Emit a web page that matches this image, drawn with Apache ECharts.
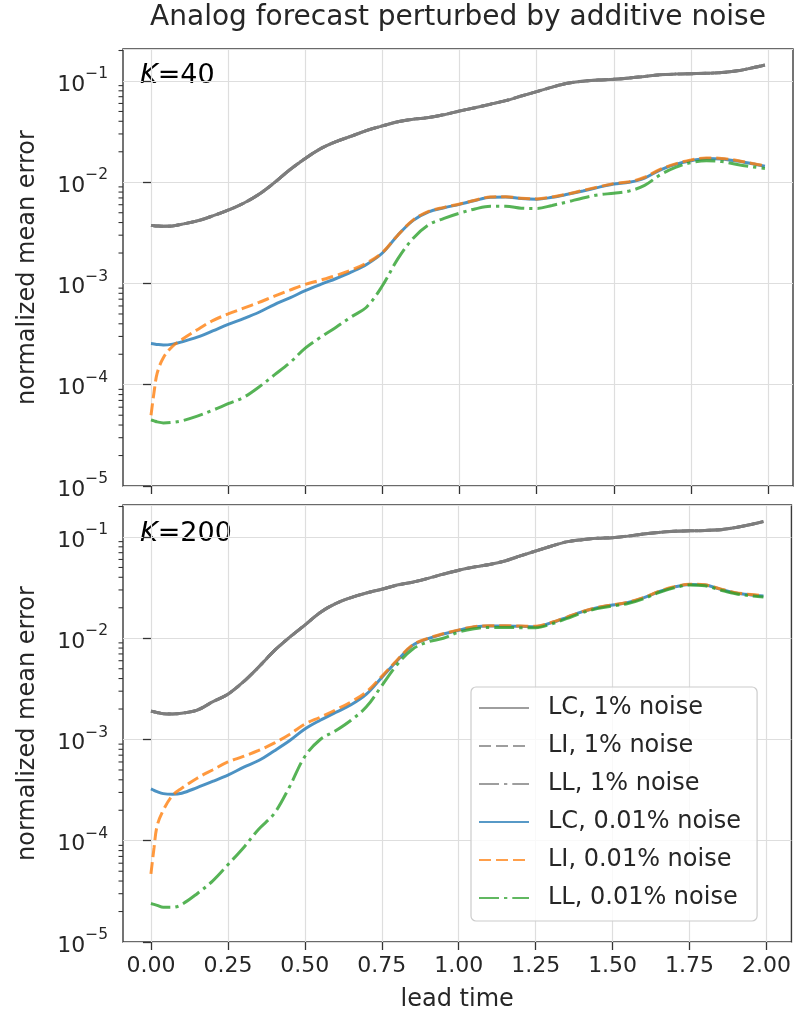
<!DOCTYPE html>
<html><head><meta charset="utf-8">
<script src="https://cdn.jsdelivr.net/npm/echarts@6/dist/echarts.min.js"></script>
<style>html,body{margin:0;padding:0;background:#fff}#c{width:794px;height:1019px}</style>
</head><body><div id="c"></div>
<script>
// ---------------- data ----------------
const leadTime = [0, 0.01, 0.02, 0.04, 0.07, 0.1, 0.15, 0.2, 0.25, 0.3, 0.35, 0.4, 0.45, 0.5, 0.55, 0.6, 0.65, 0.7, 0.75, 0.8, 0.85, 0.9, 0.95, 1.0, 1.05, 1.1, 1.15, 1.2, 1.25, 1.3, 1.35, 1.4, 1.45, 1.5, 1.55, 1.6, 1.65, 1.7, 1.75, 1.8, 1.85, 1.9, 1.95, 1.99];

// K = 40
const k40Noise1 = [3.75e-3, 3.72e-3, 3.7e-3, 3.68e-3, 3.7e-3, 3.85e-3, 4.15e-3, 4.65e-3, 5.3e-3, 6.2e-3, 7.6e-3, 9.9e-3, 0.0133, 0.0172, 0.0215, 0.0252, 0.0286, 0.0325, 0.036, 0.0395, 0.042, 0.0435, 0.0465, 0.0505, 0.0545, 0.059, 0.064, 0.071, 0.0785, 0.087, 0.095, 0.0995, 0.102, 0.104, 0.107, 0.111, 0.115, 0.117, 0.118, 0.119, 0.121, 0.126, 0.135, 0.144];
const k40LC = [2.55e-4, 2.53e-4, 2.5e-4, 2.47e-4, 2.52e-4, 2.65e-4, 2.95e-4, 3.4e-4, 3.95e-4, 4.5e-4, 5.2e-4, 6.2e-4, 7.2e-4, 8.5e-4, 9.8e-4, 1.12e-3, 1.3e-3, 1.55e-3, 2.0e-3, 3.0e-3, 4.2e-3, 5.1e-3, 5.6e-3, 6.05e-3, 6.6e-3, 7.1e-3, 7.15e-3, 6.9e-3, 6.8e-3, 7.1e-3, 7.6e-3, 8.2e-3, 8.9e-3, 9.6e-3, 1.0e-2, 1.1e-2, 1.32e-2, 1.5e-2, 1.63e-2, 1.72e-2, 1.7e-2, 1.62e-2, 1.52e-2, 1.44e-2];
const k40LI = [5.0e-5, 8.5e-5, 1.3e-4, 1.85e-4, 2.4e-4, 2.8e-4, 3.5e-4, 4.3e-4, 5.0e-4, 5.7e-4, 6.5e-4, 7.5e-4, 8.6e-4, 9.8e-4, 1.08e-3, 1.2e-3, 1.36e-3, 1.6e-3, 2.02e-3, 3.0e-3, 4.25e-3, 5.15e-3, 5.65e-3, 6.1e-3, 6.65e-3, 7.15e-3, 7.2e-3, 6.95e-3, 6.85e-3, 7.15e-3, 7.65e-3, 8.3e-3, 9.0e-3, 9.7e-3, 1.01e-2, 1.12e-2, 1.34e-2, 1.52e-2, 1.66e-2, 1.74e-2, 1.72e-2, 1.64e-2, 1.53e-2, 1.45e-2];
const k40LL = [4.5e-5, 4.4e-5, 4.3e-5, 4.2e-5, 4.25e-5, 4.4e-5, 4.9e-5, 5.6e-5, 6.5e-5, 7.5e-5, 9.5e-5, 1.25e-4, 1.65e-4, 2.3e-4, 2.95e-4, 3.7e-4, 4.7e-4, 5.9e-4, 9.5e-4, 1.75e-3, 2.8e-3, 3.8e-3, 4.4e-3, 4.95e-3, 5.45e-3, 5.8e-3, 5.8e-3, 5.55e-3, 5.5e-3, 5.9e-3, 6.4e-3, 7.0e-3, 7.5e-3, 7.8e-3, 8.2e-3, 9.3e-3, 1.18e-2, 1.4e-2, 1.56e-2, 1.63e-2, 1.6e-2, 1.5e-2, 1.42e-2, 1.37e-2];

// K = 200
const k200Noise1 = [1.9e-3, 1.88e-3, 1.85e-3, 1.8e-3, 1.79e-3, 1.82e-3, 1.95e-3, 2.35e-3, 2.8e-3, 3.7e-3, 5.2e-3, 7.5e-3, 1.02e-2, 1.35e-2, 1.8e-2, 2.2e-2, 2.52e-2, 2.8e-2, 3.05e-2, 3.35e-2, 3.58e-2, 3.9e-2, 4.3e-2, 4.7e-2, 5.05e-2, 5.35e-2, 5.8e-2, 6.5e-2, 7.27e-2, 8.1e-2, 8.95e-2, 9.4e-2, 9.7e-2, 9.85e-2, 0.102, 0.107, 0.111, 0.114, 0.115, 0.116, 0.118, 0.124, 0.133, 0.142];
const k200LC = [3.25e-4, 3.15e-4, 3.05e-4, 2.92e-4, 2.88e-4, 2.95e-4, 3.35e-4, 3.85e-4, 4.45e-4, 5.3e-4, 6.2e-4, 7.7e-4, 9.7e-4, 1.27e-3, 1.55e-3, 1.85e-3, 2.2e-3, 2.8e-3, 4.1e-3, 6.0e-3, 8.5e-3, 9.9e-3, 1.1e-2, 1.2e-2, 1.29e-2, 1.32e-2, 1.32e-2, 1.31e-2, 1.3e-2, 1.42e-2, 1.6e-2, 1.82e-2, 2.0e-2, 2.13e-2, 2.25e-2, 2.5e-2, 2.88e-2, 3.2e-2, 3.4e-2, 3.35e-2, 3.05e-2, 2.8e-2, 2.68e-2, 2.62e-2];
const k200LI = [4.7e-5, 8.5e-5, 1.4e-4, 2.0e-4, 2.8e-4, 3.3e-4, 4.15e-4, 5.0e-4, 6.0e-4, 6.8e-4, 7.8e-4, 9.2e-4, 1.12e-3, 1.42e-3, 1.66e-3, 1.96e-3, 2.35e-3, 2.95e-3, 4.2e-3, 6.1e-3, 8.6e-3, 1.0e-2, 1.11e-2, 1.21e-2, 1.3e-2, 1.33e-2, 1.33e-2, 1.32e-2, 1.31e-2, 1.43e-2, 1.61e-2, 1.83e-2, 2.01e-2, 2.14e-2, 2.27e-2, 2.52e-2, 2.9e-2, 3.22e-2, 3.42e-2, 3.37e-2, 3.07e-2, 2.82e-2, 2.7e-2, 2.64e-2];
const k200LL = [2.4e-5, 2.35e-5, 2.3e-5, 2.2e-5, 2.2e-5, 2.35e-5, 3.0e-5, 4.0e-5, 5.8e-5, 8.5e-5, 1.3e-4, 1.85e-4, 3.4e-4, 6.8e-4, 1.0e-3, 1.22e-3, 1.55e-3, 2.1e-3, 3.4e-3, 5.5e-3, 7.8e-3, 9.2e-3, 1.0e-2, 1.15e-2, 1.24e-2, 1.28e-2, 1.28e-2, 1.27e-2, 1.27e-2, 1.38e-2, 1.56e-2, 1.78e-2, 1.96e-2, 2.08e-2, 2.2e-2, 2.45e-2, 2.83e-2, 3.15e-2, 3.36e-2, 3.3e-2, 3.0e-2, 2.75e-2, 2.62e-2, 2.55e-2];

// axis ticks and labels
const xTickValues = [0, 0.25, 0.5, 0.75, 1.0, 1.25, 1.5, 1.75, 2.0];
const minorMultipliers = [2, 3, 4, 5, 6, 7, 8, 9];
const decades = [1e-5, 1e-4, 1e-3, 1e-2, 1e-1];
const seriesNames = ['LC, 1% noise', 'LI, 1% noise', 'LL, 1% noise', 'LC, 0.01% noise', 'LI, 0.01% noise', 'LL, 0.01% noise'];
const panelLabels = ['40', '200'];

// ---------------- chart ----------------
const FONT = 'DejaVu Sans';
const X_MIN = -0.0908, X_MAX = 2.081;
const Y_MIN = 1e-5, Y_MAX = 0.207;
const TXT = '#262626';

const chart = echarts.init(document.getElementById('c'));

const minorVals = [];
decades.forEach(d => minorMultipliers.forEach(m => { const v = m * d; if (v < Y_MAX) minorVals.push(v); }));

const pair = arr => leadTime.map((t, i) => [t, arr[i]]);

const DASH = [12, 5];
const DASHDOT = [20, 5, 3.3, 5];
const styles = [
  { color: '#7d7d7d', opacity: 1, type: 'solid' },
  { color: '#7d7d7d', opacity: 1, type: DASH },
  { color: '#7d7d7d', opacity: 1, type: DASHDOT },
  { color: '#1f77b4', opacity: 0.8, type: 'solid' },
  { color: '#ff7f0e', opacity: 0.8, type: DASH },
  { color: '#2ca02c', opacity: 0.8, type: DASHDOT }
];

const panels = [
  [k40Noise1, k40Noise1, k40Noise1, k40LC, k40LI, k40LL],
  [k200Noise1, k200Noise1, k200Noise1, k200LC, k200LI, k200LL]
];

const series = [];
panels.forEach((arrs, p) => {
  arrs.forEach((arr, i) => {
    const s = styles[i];
    series.push({
      name: seriesNames[i], type: 'line', xAxisIndex: p, yAxisIndex: p,
      data: pair(arr), symbol: 'none', showSymbol: false,
      smooth: 0.35, silent: true,
      emphasis: { disabled: true },
      itemStyle: { color: s.color, opacity: s.opacity },
      lineStyle: { color: s.color, width: 3, type: s.type, opacity: s.opacity }
    });
  });
  series.push({
    type: 'custom', xAxisIndex: p, yAxisIndex: p, silent: true, clip: false,
    data: minorVals.map(v => [X_MIN, v]),
    renderItem: (params, api) => {
      const pt = api.coord([api.value(0), api.value(1)]);
      return { type: 'line', shape: { x1: pt[0] - 4.5, y1: pt[1], x2: pt[0], y2: pt[1] },
               style: { stroke: '#333', lineWidth: 1.1 } };
    }
  });
});

const grids = [
  { left: 123, width: 670, top: 49, height: 437 },
  { left: 123, width: 670, top: 505, height: 437 }
].map(g => Object.assign(g, { show: true, borderColor: '#3a3a3a', borderWidth: 1.4, backgroundColor: 'transparent', containLabel: false }));

const xAxes = [0, 1].map(p => ({
  type: 'value', gridIndex: p, min: X_MIN, max: X_MAX,
  axisLine: { show: false },
  axisTick: { show: true, inside: false, length: 8, customValues: xTickValues, lineStyle: { color: '#333', width: 1.3 } },
  axisLabel: { show: p === 1, customValues: xTickValues, margin: 13, fontSize: 22, fontFamily: FONT, color: TXT,
               formatter: v => v.toFixed(2) },
  splitLine: { show: true, lineStyle: { color: '#dedede', width: 1.2 } },
  name: p === 1 ? 'lead time' : '', nameLocation: 'middle', nameGap: 46,
  nameTextStyle: { fontSize: 24, fontFamily: FONT, color: TXT }
}));

const yAxes = [0, 1].map(p => ({
  type: 'log', logBase: 10, gridIndex: p, min: Y_MIN, max: Y_MAX, interval: 1,
  axisLine: { show: false },
  axisTick: { show: true, inside: false, length: 8, lineStyle: { color: '#333', width: 1.3 } },
  axisLabel: {
    margin: 15, showMaxLabel: false, showMinLabel: true,
    formatter: v => '{b|10}{s|\u2212' + Math.round(-Math.log10(v)) + '}',
    rich: {
      b: { fontSize: 22, fontFamily: FONT, color: TXT, lineHeight: 30, verticalAlign: 'bottom', padding: [6, 0, 0, 0] },
      s: { fontSize: 15.5, fontFamily: FONT, color: TXT, lineHeight: 17, verticalAlign: 'top' }
    }
  },
  splitLine: { show: true, lineStyle: { color: '#dedede', width: 1.2 } },
  minorTick: { show: false },
  name: 'normalized mean error', nameLocation: 'middle', nameGap: 83, nameRotate: 90,
  nameTextStyle: { fontSize: 24, fontFamily: FONT, color: TXT }
}));

const graphic = [
  { type: 'text', style: { text: 'Analog forecast perturbed by additive noise', x: 458, y: 18, textAlign: 'center', textVerticalAlign: 'middle', font: '28px "DejaVu Sans"', fill: TXT } }
];
[76, 534].forEach((yy, p) => {
  graphic.push({ type: 'text', style: {
    x: 140, y: yy, textVerticalAlign: 'middle',
    text: '{i|K}{n|=' + panelLabels[p] + '}',
    rich: { i: { fontSize: 27, fontFamily: FONT, fontStyle: 'italic', color: TXT },
            n: { fontSize: 27, fontFamily: FONT, color: TXT } }
  }});
});

chart.setOption({
  animation: false,
  backgroundColor: '#ffffff',
  grid: grids, xAxis: xAxes, yAxis: yAxes,
  legend: {
    data: seriesNames, orient: 'vertical', left: 471, top: 687,
    itemWidth: 50, itemHeight: 14, itemGap: 14,
    padding: [9, 16, 11, 7], selectedMode: false,
    backgroundColor: 'rgba(255,255,255,0.8)', borderColor: '#cccccc', borderWidth: 1.2, borderRadius: 5,
    itemStyle: { opacity: 0 },
    lineStyle: { opacity: 0.75 },
    textStyle: { fontSize: 24, fontFamily: FONT, color: TXT, lineHeight: 24, padding: [0, 0, 0, 14] }
  },
  graphic: graphic,
  series: series
});
</script>
</body></html>
